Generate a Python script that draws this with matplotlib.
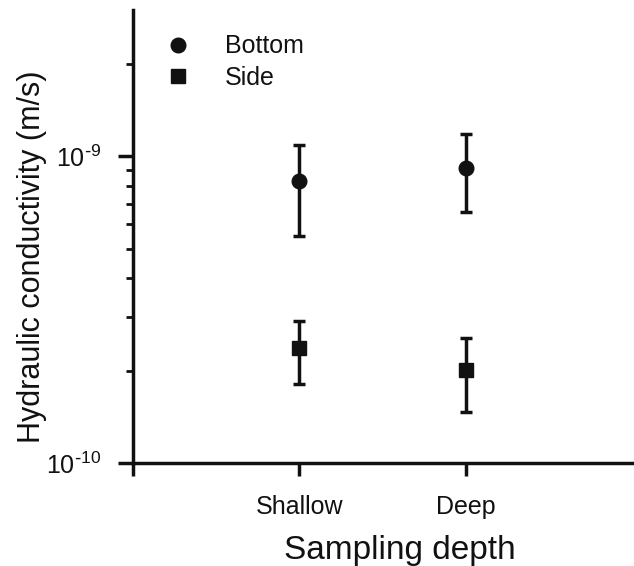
import matplotlib
matplotlib.use("Agg")
import matplotlib.pyplot as plt
from matplotlib.ticker import FixedLocator, NullFormatter

# --- data ---
depths = ["Shallow", "Deep"]
bottom_k = [8.3e-10, 9.15e-10]
bottom_hi = [1.09e-9, 1.18e-9]
bottom_lo = [5.5e-10, 6.6e-10]
side_k = [2.37e-10, 2.01e-10]
side_hi = [2.9e-10, 2.55e-10]
side_lo = [1.81e-10, 1.47e-10]

plt.rcParams['font.family'] = ['Liberation Sans', 'DejaVu Sans']
plt.rcParams['mathtext.default'] = 'regular'

INK = '#111111'

fig = plt.figure(figsize=(6.34, 5.66), dpi=100)
ax = fig.add_axes([0.21, 0.182, 0.787, 0.8])

xpos = [1, 2]
err_b = [[k - lo for k, lo in zip(bottom_k, bottom_lo)], [hi - k for k, hi in zip(bottom_k, bottom_hi)]]
err_s = [[k - lo for k, lo in zip(side_k, side_lo)], [hi - k for k, hi in zip(side_k, side_hi)]]

ax.errorbar(xpos, bottom_k, yerr=err_b, fmt='o', color=INK, markersize=10.5,
            elinewidth=2.5, capsize=4.5, capthick=2.5, label="Bottom")
ax.errorbar(xpos, side_k, yerr=err_s, fmt='s', color=INK, markersize=9.5,
            elinewidth=2.5, capsize=4.5, capthick=2.5, label="Side")

ax.set_yscale('log')
ax.set_ylim(1e-10, 3e-9)
ax.set_xlim(0, 3)

ax.yaxis.set_major_locator(FixedLocator([1e-10, 1e-9]))
ax.set_yticklabels([r'$10^{\text{-}10}$', r'$10^{\text{-}9}$'], color=INK)
minors = [m * 1e-10 for m in range(2, 10)] + [2e-9]
ax.yaxis.set_minor_locator(FixedLocator(minors))
ax.yaxis.set_minor_formatter(NullFormatter())

ax.set_xticks([0, 1, 2])
ax.set_xticklabels(["", depths[0], depths[1]], color=INK)

for s in ['top', 'right']:
    ax.spines[s].set_visible(False)
for s in ['left', 'bottom']:
    ax.spines[s].set_linewidth(2.5)
    ax.spines[s].set_color(INK)

ax.tick_params(axis='y', which='major', length=11, width=2.5, labelsize=18, pad=12, color=INK)
ax.tick_params(axis='y', which='minor', length=5, width=2, color=INK)
ax.tick_params(axis='x', which='major', length=9, width=2.5, labelsize=18, pad=14, color=INK)

ax.set_xlabel("Sampling depth", fontsize=24, color=INK)
ax.xaxis.set_label_coords(0.535, -0.16)
ax.set_ylabel("Hydraulic conductivity (m/s)", fontsize=22, color=INK)
ax.yaxis.set_label_coords(-0.172, 0.455)

handles, labels = ax.get_legend_handles_labels()
handles = [h[0] for h in handles]
ax.legend(handles, labels, loc='upper left', bbox_to_anchor=(0.008, 0.996), frameon=False,
          fontsize=18, handletextpad=1.1, labelspacing=0.3, handlelength=1.5,
          labelcolor=INK)

fig.savefig("out.png", dpi=100)
